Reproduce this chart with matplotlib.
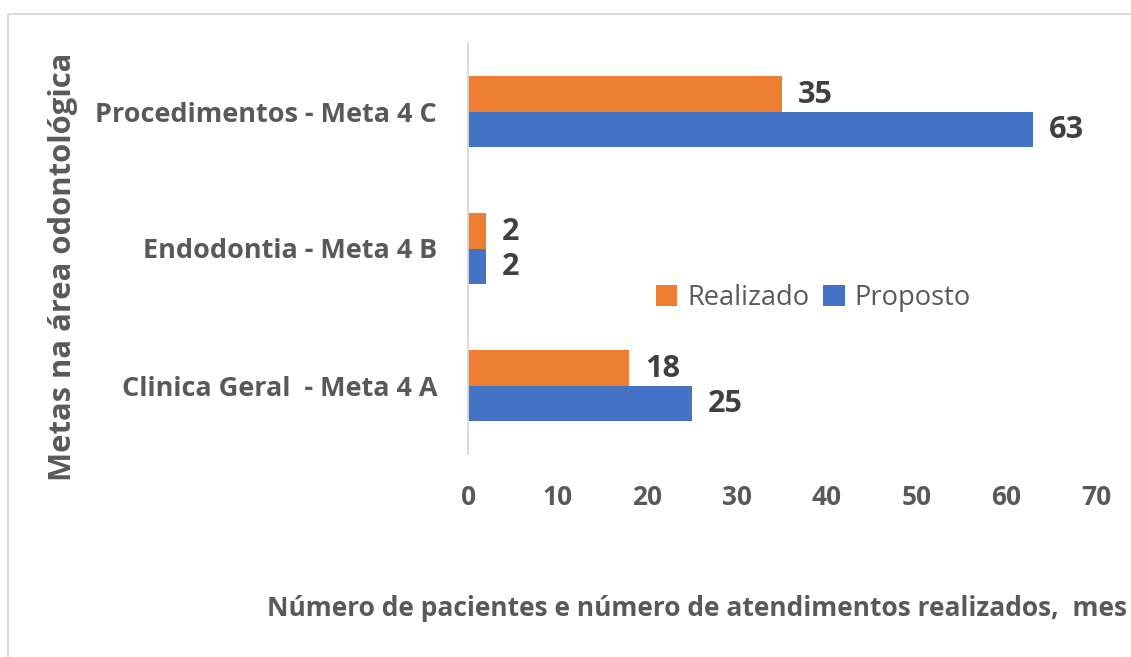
import matplotlib
matplotlib.use("Agg")
import matplotlib.pyplot as plt
from matplotlib.patches import Rectangle
import numpy as np

categories = ["Clinica Geral  - Meta 4 A", "Endodontia - Meta 4 B", "Procedimentos - Meta 4 C"]
realizado = [18, 2, 35]
proposto = [25, 2, 63]
series_names = ["Realizado", "Proposto"]
xticks = [0, 10, 20, 30, 40, 50, 60, 70]
ylabel = "Metas na área odontológica"
xlabel = "Número de pacientes e número de atendimentos realizados,  mes"

ORANGE = "#ED7D31"
BLUE = "#4472C4"
GRAY = "#595959"
DARK = "#404040"
FONT = "Open Sans"

W, H = 1131, 657
fig = plt.figure(figsize=(W / 100, H / 100), dpi=100)
fig.patch.set_facecolor("white")
renderer = fig.canvas.get_renderer()


def size_for(s, target_px, weight):
    t = fig.text(0, 0, s, fontsize=20, fontweight=weight, family=FONT)
    w = t.get_window_extent(renderer=renderer).width
    t.remove()
    return 20 * target_px / w


PX = 72 / 100  # points per pixel
cat_size = size_for("Procedimentos - Meta 4 C", 341, "bold")
tick_size = size_for("70", 30, "bold")
val_size = size_for("63", 35, "bold")
ylab_size = size_for(ylabel, 430, "bold")
xlab_size = size_for(xlabel, 864, "bold")
leg_size = size_for("Realizado", 122, "normal")

# chart border (cropped at right/bottom)
fig.add_artist(Rectangle((8 / W, -0.1), 1.2, 1 - 13.5 / H + 0.1, transform=fig.transFigure,
                         fill=False, edgecolor="#D9D9D9", linewidth=1.5))

ax = fig.add_axes([468 / W, 1 - 454 / H, (1096 - 468) / W, (454 - 43) / H])
y = np.arange(len(categories))
h = 0.256
b1 = ax.barh(y + h / 2, realizado, height=h, color=ORANGE, label=series_names[0])
b2 = ax.barh(y - h / 2, proposto, height=h, color=BLUE, label=series_names[1])

for bars, vals in ((b1, realizado), (b2, proposto)):
    for bar, v in zip(bars, vals):
        ax.annotate(str(v), (bar.get_width(), bar.get_y() + bar.get_height() / 2),
                    xytext=(16 * PX, -1 * PX), textcoords="offset points", ha="left", va="center",
                    fontsize=val_size, fontweight="bold", color=DARK, family=FONT)

ax.set_xlim(0, 70)
ax.set_ylim(-0.5, 2.5)
ax.set_xticks(xticks)
ax.set_xticklabels([str(t) for t in xticks], fontsize=tick_size, fontweight="bold", color=GRAY, family=FONT)
ax.set_yticks(y)
ax.set_yticklabels(categories, fontsize=cat_size, fontweight="bold", color=GRAY, family=FONT)
ax.tick_params(axis="both", length=0)
ax.tick_params(axis="y", pad=31 * PX)
ax.tick_params(axis="x", pad=30 * PX)
for s in ("top", "right", "bottom"):
    ax.spines[s].set_visible(False)
ax.spines["left"].set_color("#D9D9D9")
ax.spines["left"].set_linewidth(1.3)

fig.text(63 / W, 1 - 267 / H, ylabel, rotation=90, ha="center", va="center",
         fontsize=ylab_size, fontweight="bold", color=GRAY, family=FONT)
fig.text(267 / W, 1 - 616 / H, xlabel, ha="left", va="baseline",
         fontsize=xlab_size, fontweight="bold", color=GRAY, family=FONT)

leg = ax.legend(loc="center", bbox_to_anchor=((813 - 468) / (1096 - 468), (454 - 298) / (454 - 43)),
                ncol=2, frameon=False, prop={"family": FONT, "size": leg_size},
                handlelength=0.8, handleheight=0.8, handletextpad=0.35, columnspacing=0.5,
                borderpad=0, borderaxespad=0)
for t in leg.get_texts():
    t.set_color(GRAY)

fig.savefig("out.png", dpi=100)
